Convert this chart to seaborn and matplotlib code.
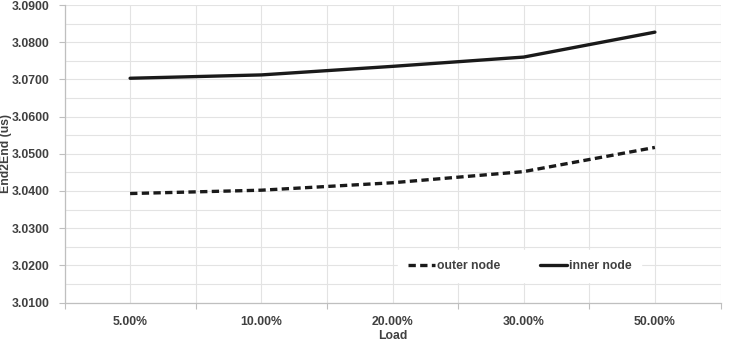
import matplotlib
matplotlib.use("Agg")
import matplotlib.pyplot as plt
import seaborn as sns
import pandas as pd
import numpy as np
from matplotlib.ticker import FixedLocator, MultipleLocator
from matplotlib.lines import Line2D

categories = ["5.00%", "10.00%", "20.00%", "30.00%", "50.00%"]
outer_node = [3.0393, 3.0402, 3.0422, 3.0452, 3.0517]
inner_node = [3.0703, 3.0712, 3.0735, 3.0760, 3.0827]
y_ticks = [3.0100, 3.0200, 3.0300, 3.0400, 3.0500, 3.0600, 3.0700, 3.0800, 3.0900]

sns.set_theme(style="white")
plt.rcParams['font.family'] = ['Liberation Sans', 'DejaVu Sans']

FS = 8.8

df = pd.DataFrame({
    "pos": list(range(len(categories))) * 2,
    "value": outer_node + inner_node,
    "series": ["outer node"] * len(categories) + ["inner node"] * len(categories),
})

fig = plt.figure(figsize=(7.31, 3.44), dpi=100)
ax = fig.add_axes([64.5 / 731, 1 - 302.5 / 344, 656 / 731, 297.5 / 344])

sns.lineplot(data=df, x="pos", y="value", style="series",
             dashes={"outer node": (2.2, 1.3), "inner node": ""},
             color="#1a1a1a", linewidth=2.4, legend=False, ax=ax)

ax.set_xlim(-0.5, len(categories) - 0.5)
ax.set_ylim(3.01, 3.09)

# x: major ticks at category boundaries, labels at centers
ax.xaxis.set_major_locator(FixedLocator(np.arange(-0.5, len(categories), 1.0)))
ax.xaxis.set_minor_locator(FixedLocator(np.arange(0, len(categories), 1.0)))
ax.set_xticklabels([])
ax.set_xticks(range(len(categories)), categories, minor=True)
ax.tick_params(axis="x", which="major", length=4, width=0.8, color="#bfbfbf", bottom=True)
ax.tick_params(axis="x", which="minor", length=0, pad=10, labelsize=FS, labelcolor="#404040")

ax.set_yticks(y_ticks)
ax.set_yticklabels([f"{v:.4f}" for v in y_ticks])
ax.yaxis.set_minor_locator(MultipleLocator(0.005))
ax.tick_params(axis="y", which="major", length=4, width=0.8, color="#bfbfbf", left=True,
               labelsize=FS, labelcolor="#404040", pad=7)
ax.tick_params(axis="y", which="minor", length=0)

for lbl in ax.get_xticklabels(minor=True) + ax.get_yticklabels():
    lbl.set_fontweight("bold")

ax.grid(True, which="both", color="#e3e3e3", linewidth=0.8)
ax.set_axisbelow(True)
for s in ["top", "right"]:
    ax.spines[s].set_visible(False)
for s in ["left", "bottom"]:
    ax.spines[s].set_color("#bfbfbf")
    ax.spines[s].set_linewidth(0.9)

ax.set_xlabel("Load", fontsize=FS, fontweight="bold", color="#404040")
ax.xaxis.set_label_coords(0.5, -0.092)
ax.set_ylabel("End2End (us)", fontsize=FS, fontweight="bold", color="#404040")
ax.yaxis.set_label_coords((12 - 64.5) / 656, 0.5)

handles = [Line2D([0], [0], color="#1a1a1a", lw=2.4, dashes=(2.2, 1.3)),
           Line2D([0], [0], color="#1a1a1a", lw=2.4)]
leg = ax.legend(handles, ["outer node", "inner node"], ncol=2,
                loc="center", bbox_to_anchor=(0.694, 0.123),
                frameon=True, facecolor="white", edgecolor="white", framealpha=1,
                fontsize=FS, handlelength=2.2, handletextpad=0.15, columnspacing=3.3,
                borderpad=0.8, fancybox=False)
for t in leg.get_texts():
    t.set_fontweight("bold")
    t.set_color("#404040")

fig.savefig("out.png", dpi=100)
